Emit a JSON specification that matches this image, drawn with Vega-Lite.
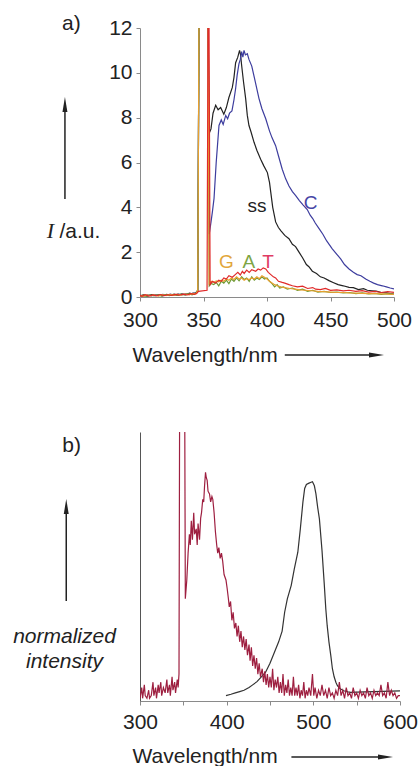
{
"$schema": "https://vega.github.io/schema/vega-lite/v6.json",
"padding": {"left": 12, "top": 12, "right": 0, "bottom": 0},
"bounds": "flush",
"spacing": 135,
"config": {
  "view": {"stroke": null},
  "font": "Liberation Sans",
  "text": {"font": "Liberation Sans"},
  "axis": {"grid": false, "labelFont": "Liberation Sans", "labelFontSize": 21, "labelColor": "#222222", "titleFont": "Liberation Sans", "titleFontSize": 21, "titleFontWeight": "normal", "titleColor": "#222222", "domainColor": "#8a8a8a", "tickColor": "#8a8a8a", "tickSize": 4, "labelFlush": false}
},
"datasets": {
  "a": [
    {"s":"ss","wl":300,"I":0.05},{"s":"ss","wl":303,"I":0.09},{"s":"ss","wl":306,"I":0.04},{"s":"ss","wl":309,"I":0.11},{"s":"ss","wl":312,"I":0.06},{"s":"ss","wl":315,"I":0.1},{"s":"ss","wl":318,"I":0.05},{"s":"ss","wl":321,"I":0.12},{"s":"ss","wl":324,"I":0.07},{"s":"ss","wl":327,"I":0.13},{"s":"ss","wl":330,"I":0.08},{"s":"ss","wl":333,"I":0.14},{"s":"ss","wl":336,"I":0.1},{"s":"ss","wl":339,"I":0.17},{"s":"ss","wl":342,"I":0.13},{"s":"ss","wl":344,"I":0.2},{"s":"ss","wl":345.5,"I":0.3},{"s":"ss","wl":346.5,"I":13},{"s":"ss","wl":353.5,"I":13},{"s":"ss","wl":354.5,"I":7.3},{"s":"ss","wl":355.9,"I":7.5},{"s":"ss","wl":357.5,"I":8.2},{"s":"ss","wl":359.6,"I":8.55},{"s":"ss","wl":361.5,"I":8.35},{"s":"ss","wl":363.5,"I":8.45},{"s":"ss","wl":366,"I":8.15},{"s":"ss","wl":368,"I":8.45},{"s":"ss","wl":370,"I":8.9},{"s":"ss","wl":372.7,"I":9.35},{"s":"ss","wl":374,"I":9.8},{"s":"ss","wl":375.3,"I":10.45},{"s":"ss","wl":377,"I":10.7},{"s":"ss","wl":378.4,"I":11.0},{"s":"ss","wl":379.2,"I":10.8},{"s":"ss","wl":380,"I":10.35},{"s":"ss","wl":381.5,"I":9.6},{"s":"ss","wl":383.2,"I":8.85},{"s":"ss","wl":384.5,"I":8.1},{"s":"ss","wl":385.8,"I":7.65},{"s":"ss","wl":387.5,"I":7.35},{"s":"ss","wl":389.8,"I":6.9},{"s":"ss","wl":392,"I":6.55},{"s":"ss","wl":395,"I":6.15},{"s":"ss","wl":397.5,"I":5.85},{"s":"ss","wl":400.3,"I":5.55},{"s":"ss","wl":402,"I":5.1},{"s":"ss","wl":402.9,"I":4.7},{"s":"ss","wl":404.5,"I":4.0},{"s":"ss","wl":406.8,"I":3.35},{"s":"ss","wl":409,"I":3.1},{"s":"ss","wl":411,"I":2.95},{"s":"ss","wl":414,"I":2.75},{"s":"ss","wl":417.3,"I":2.6},{"s":"ss","wl":420,"I":2.35},{"s":"ss","wl":422.5,"I":2.25},{"s":"ss","wl":425.2,"I":2.0},{"s":"ss","wl":428,"I":1.75},{"s":"ss","wl":431,"I":1.45},{"s":"ss","wl":433,"I":1.35},{"s":"ss","wl":435.7,"I":1.15},{"s":"ss","wl":439,"I":1.05},{"s":"ss","wl":442,"I":0.9},{"s":"ss","wl":445,"I":0.85},{"s":"ss","wl":448.8,"I":0.73},{"s":"ss","wl":452,"I":0.65},{"s":"ss","wl":456,"I":0.55},{"s":"ss","wl":460,"I":0.5},{"s":"ss","wl":464.6,"I":0.43},{"s":"ss","wl":468,"I":0.42},{"s":"ss","wl":472,"I":0.33},{"s":"ss","wl":476,"I":0.37},{"s":"ss","wl":479,"I":0.3},{"s":"ss","wl":482.7,"I":0.28},{"s":"ss","wl":486,"I":0.26},{"s":"ss","wl":490,"I":0.2},{"s":"ss","wl":494,"I":0.19},{"s":"ss","wl":497,"I":0.15},{"s":"ss","wl":500,"I":0.13},

    {"s":"C","wl":300,"I":0.07},{"s":"C","wl":303,"I":0.04},{"s":"C","wl":306,"I":0.1},{"s":"C","wl":309,"I":0.05},{"s":"C","wl":312,"I":0.11},{"s":"C","wl":315,"I":0.06},{"s":"C","wl":318,"I":0.12},{"s":"C","wl":321,"I":0.07},{"s":"C","wl":324,"I":0.13},{"s":"C","wl":327,"I":0.08},{"s":"C","wl":330,"I":0.14},{"s":"C","wl":333,"I":0.09},{"s":"C","wl":336,"I":0.15},{"s":"C","wl":339,"I":0.11},{"s":"C","wl":342,"I":0.18},{"s":"C","wl":344,"I":0.15},{"s":"C","wl":345.5,"I":0.3},{"s":"C","wl":346.5,"I":13},{"s":"C","wl":353.5,"I":13},{"s":"C","wl":354.5,"I":2.8},{"s":"C","wl":355.7,"I":3.26},{"s":"C","wl":357,"I":3.8},{"s":"C","wl":358.3,"I":4.4},{"s":"C","wl":360,"I":6.0},{"s":"C","wl":362.2,"I":7.65},{"s":"C","wl":364,"I":7.9},{"s":"C","wl":365.5,"I":7.7},{"s":"C","wl":367.5,"I":8.1},{"s":"C","wl":369,"I":7.95},{"s":"C","wl":370.5,"I":8.2},{"s":"C","wl":372.4,"I":8.3},{"s":"C","wl":374,"I":8.8},{"s":"C","wl":375.3,"I":9.3},{"s":"C","wl":376.5,"I":9.9},{"s":"C","wl":377.9,"I":10.4},{"s":"C","wl":379,"I":10.6},{"s":"C","wl":380,"I":10.95},{"s":"C","wl":381,"I":10.7},{"s":"C","wl":381.9,"I":11.0},{"s":"C","wl":383,"I":10.8},{"s":"C","wl":384.5,"I":10.85},{"s":"C","wl":385.8,"I":10.6},{"s":"C","wl":388,"I":10.3},{"s":"C","wl":390,"I":9.8},{"s":"C","wl":393.7,"I":8.85},{"s":"C","wl":396,"I":8.4},{"s":"C","wl":399,"I":7.95},{"s":"C","wl":402,"I":7.4},{"s":"C","wl":404,"I":7.1},{"s":"C","wl":406.8,"I":6.75},{"s":"C","wl":409,"I":6.3},{"s":"C","wl":412,"I":5.7},{"s":"C","wl":414.7,"I":5.27},{"s":"C","wl":417.3,"I":4.95},{"s":"C","wl":420,"I":4.7},{"s":"C","wl":422.6,"I":4.52},{"s":"C","wl":425.5,"I":4.3},{"s":"C","wl":428.5,"I":4.1},{"s":"C","wl":431.7,"I":3.9},{"s":"C","wl":434,"I":3.65},{"s":"C","wl":436,"I":3.5},{"s":"C","wl":438,"I":3.3},{"s":"C","wl":441,"I":3.05},{"s":"C","wl":444,"I":2.8},{"s":"C","wl":447,"I":2.5},{"s":"C","wl":451.4,"I":2.15},{"s":"C","wl":455,"I":1.9},{"s":"C","wl":458,"I":1.7},{"s":"C","wl":461,"I":1.45},{"s":"C","wl":464.6,"I":1.25},{"s":"C","wl":468,"I":1.1},{"s":"C","wl":471,"I":1.0},{"s":"C","wl":474,"I":0.95},{"s":"C","wl":477.7,"I":0.8},{"s":"C","wl":481,"I":0.7},{"s":"C","wl":484,"I":0.62},{"s":"C","wl":487,"I":0.55},{"s":"C","wl":490.8,"I":0.5},{"s":"C","wl":494,"I":0.45},{"s":"C","wl":497,"I":0.4},{"s":"C","wl":500,"I":0.36},

    {"s":"A","wl":300,"I":0.04},{"s":"A","wl":302,"I":0.08},{"s":"A","wl":305,"I":0.03},{"s":"A","wl":308,"I":0.09},{"s":"A","wl":311,"I":0.05},{"s":"A","wl":314,"I":0.1},{"s":"A","wl":317,"I":0.04},{"s":"A","wl":320,"I":0.11},{"s":"A","wl":323,"I":0.06},{"s":"A","wl":326,"I":0.12},{"s":"A","wl":329,"I":0.07},{"s":"A","wl":332,"I":0.13},{"s":"A","wl":335,"I":0.09},{"s":"A","wl":338,"I":0.15},{"s":"A","wl":341,"I":0.1},{"s":"A","wl":344,"I":0.18},{"s":"A","wl":345.5,"I":0.3},{"s":"A","wl":346.5,"I":13},{"s":"A","wl":353.5,"I":13},{"s":"A","wl":354.5,"I":0.5},{"s":"A","wl":356,"I":0.6},{"s":"A","wl":358,"I":0.55},{"s":"A","wl":360,"I":0.65},{"s":"A","wl":362,"I":0.5},{"s":"A","wl":364,"I":0.7},{"s":"A","wl":366,"I":0.62},{"s":"A","wl":368,"I":0.75},{"s":"A","wl":370,"I":0.6},{"s":"A","wl":372,"I":0.8},{"s":"A","wl":374,"I":0.7},{"s":"A","wl":376,"I":0.85},{"s":"A","wl":378,"I":0.72},{"s":"A","wl":380,"I":0.9},{"s":"A","wl":382,"I":0.78},{"s":"A","wl":384,"I":0.85},{"s":"A","wl":386,"I":0.7},{"s":"A","wl":388,"I":0.9},{"s":"A","wl":390,"I":0.75},{"s":"A","wl":392,"I":0.85},{"s":"A","wl":394,"I":0.78},{"s":"A","wl":396,"I":0.9},{"s":"A","wl":398,"I":0.8},{"s":"A","wl":400,"I":0.85},{"s":"A","wl":402,"I":0.7},{"s":"A","wl":404,"I":0.6},{"s":"A","wl":406,"I":0.45},{"s":"A","wl":408,"I":0.55},{"s":"A","wl":410,"I":0.4},{"s":"A","wl":413,"I":0.45},{"s":"A","wl":416,"I":0.35},{"s":"A","wl":420,"I":0.4},{"s":"A","wl":424,"I":0.3},{"s":"A","wl":428,"I":0.35},{"s":"A","wl":432,"I":0.25},{"s":"A","wl":436,"I":0.3},{"s":"A","wl":440,"I":0.22},{"s":"A","wl":445,"I":0.25},{"s":"A","wl":450,"I":0.2},{"s":"A","wl":455,"I":0.22},{"s":"A","wl":460,"I":0.18},{"s":"A","wl":465,"I":0.2},{"s":"A","wl":470,"I":0.15},{"s":"A","wl":475,"I":0.18},{"s":"A","wl":480,"I":0.14},{"s":"A","wl":485,"I":0.16},{"s":"A","wl":490,"I":0.12},{"s":"A","wl":495,"I":0.15},{"s":"A","wl":500,"I":0.12},

    {"s":"G","wl":300,"I":0.06},{"s":"G","wl":302.5,"I":0.03},{"s":"G","wl":305.5,"I":0.09},{"s":"G","wl":308.5,"I":0.05},{"s":"G","wl":311.5,"I":0.1},{"s":"G","wl":314.5,"I":0.04},{"s":"G","wl":317.5,"I":0.11},{"s":"G","wl":320.5,"I":0.06},{"s":"G","wl":323.5,"I":0.12},{"s":"G","wl":326.5,"I":0.07},{"s":"G","wl":329.5,"I":0.13},{"s":"G","wl":332.5,"I":0.08},{"s":"G","wl":335.5,"I":0.14},{"s":"G","wl":338.5,"I":0.1},{"s":"G","wl":341.5,"I":0.16},{"s":"G","wl":344,"I":0.14},{"s":"G","wl":345.5,"I":0.3},{"s":"G","wl":346.5,"I":13},{"s":"G","wl":353.5,"I":13},{"s":"G","wl":354.5,"I":0.6},{"s":"G","wl":356,"I":0.7},{"s":"G","wl":358,"I":0.65},{"s":"G","wl":360,"I":0.72},{"s":"G","wl":362,"I":0.68},{"s":"G","wl":364,"I":0.75},{"s":"G","wl":366,"I":0.7},{"s":"G","wl":368,"I":0.8},{"s":"G","wl":370,"I":0.75},{"s":"G","wl":372,"I":0.85},{"s":"G","wl":374,"I":0.78},{"s":"G","wl":376,"I":0.9},{"s":"G","wl":378,"I":0.8},{"s":"G","wl":380,"I":0.85},{"s":"G","wl":382,"I":0.75},{"s":"G","wl":384,"I":0.82},{"s":"G","wl":386,"I":0.78},{"s":"G","wl":388,"I":0.85},{"s":"G","wl":390,"I":0.8},{"s":"G","wl":392,"I":0.9},{"s":"G","wl":394,"I":0.82},{"s":"G","wl":396,"I":0.95},{"s":"G","wl":398,"I":0.88},{"s":"G","wl":400,"I":0.8},{"s":"G","wl":402,"I":0.7},{"s":"G","wl":404,"I":0.62},{"s":"G","wl":406,"I":0.55},{"s":"G","wl":408,"I":0.5},{"s":"G","wl":411,"I":0.45},{"s":"G","wl":414,"I":0.42},{"s":"G","wl":418,"I":0.38},{"s":"G","wl":422,"I":0.35},{"s":"G","wl":426,"I":0.32},{"s":"G","wl":430,"I":0.3},{"s":"G","wl":435,"I":0.28},{"s":"G","wl":440,"I":0.25},{"s":"G","wl":445,"I":0.24},{"s":"G","wl":450,"I":0.22},{"s":"G","wl":455,"I":0.2},{"s":"G","wl":460,"I":0.2},{"s":"G","wl":465,"I":0.18},{"s":"G","wl":470,"I":0.17},{"s":"G","wl":475,"I":0.16},{"s":"G","wl":480,"I":0.15},{"s":"G","wl":485,"I":0.15},{"s":"G","wl":490,"I":0.14},{"s":"G","wl":495,"I":0.13},{"s":"G","wl":500,"I":0.12},

    {"s":"T","wl":300,"I":0.08},{"s":"T","wl":301.5,"I":0.03},{"s":"T","wl":304,"I":0.1},{"s":"T","wl":307,"I":0.04},{"s":"T","wl":310,"I":0.09},{"s":"T","wl":313,"I":0.05},{"s":"T","wl":316,"I":0.11},{"s":"T","wl":319,"I":0.06},{"s":"T","wl":322,"I":0.1},{"s":"T","wl":325,"I":0.07},{"s":"T","wl":328,"I":0.12},{"s":"T","wl":331,"I":0.08},{"s":"T","wl":334,"I":0.13},{"s":"T","wl":337,"I":0.09},{"s":"T","wl":340,"I":0.15},{"s":"T","wl":343,"I":0.12},{"s":"T","wl":345,"I":0.18},{"s":"T","wl":346,"I":0.25},{"s":"T","wl":352.8,"I":0.3},{"s":"T","wl":353.6,"I":13},{"s":"T","wl":354.3,"I":13},{"s":"T","wl":355.2,"I":0.55},{"s":"T","wl":357,"I":0.7},{"s":"T","wl":359.6,"I":0.62},{"s":"T","wl":362,"I":0.75},{"s":"T","wl":364,"I":0.7},{"s":"T","wl":366,"I":0.85},{"s":"T","wl":368,"I":0.8},{"s":"T","wl":370,"I":0.95},{"s":"T","wl":372.7,"I":0.88},{"s":"T","wl":375,"I":1.0},{"s":"T","wl":377,"I":1.1},{"s":"T","wl":379,"I":0.98},{"s":"T","wl":380.6,"I":1.15},{"s":"T","wl":382,"I":1.05},{"s":"T","wl":384,"I":1.2},{"s":"T","wl":386,"I":1.1},{"s":"T","wl":388,"I":1.22},{"s":"T","wl":391.1,"I":1.15},{"s":"T","wl":393,"I":1.25},{"s":"T","wl":395,"I":1.2},{"s":"T","wl":397,"I":1.3},{"s":"T","wl":399,"I":1.25},{"s":"T","wl":401,"I":1.1},{"s":"T","wl":403,"I":1.0},{"s":"T","wl":405,"I":0.9},{"s":"T","wl":406.8,"I":0.85},{"s":"T","wl":409,"I":0.7},{"s":"T","wl":412,"I":0.65},{"s":"T","wl":414,"I":0.62},{"s":"T","wl":417.3,"I":0.55},{"s":"T","wl":420,"I":0.5},{"s":"T","wl":424,"I":0.45},{"s":"T","wl":428,"I":0.48},{"s":"T","wl":432,"I":0.38},{"s":"T","wl":436,"I":0.42},{"s":"T","wl":438.3,"I":0.35},{"s":"T","wl":442,"I":0.33},{"s":"T","wl":446,"I":0.38},{"s":"T","wl":450,"I":0.3},{"s":"T","wl":455,"I":0.32},{"s":"T","wl":460,"I":0.27},{"s":"T","wl":464.6,"I":0.3},{"s":"T","wl":470,"I":0.25},{"s":"T","wl":475,"I":0.28},{"s":"T","wl":480,"I":0.22},{"s":"T","wl":485,"I":0.25},{"s":"T","wl":490,"I":0.2},{"s":"T","wl":495,"I":0.24},{"s":"T","wl":500,"I":0.21}
  ],
  "alab": [
    {"s":"ss","lab":"ss","wl":392.1,"I":4.08},
    {"s":"C","lab":"C","wl":434.4,"I":4.2},
    {"s":"G","lab":"G","wl":368.1,"I":1.58},
    {"s":"A","lab":"A","wl":385.8,"I":1.58},
    {"s":"T","lab":"T","wl":400.8,"I":1.58}
  ],
  "b": [
    {"s":"k","wl":399.2,"v":0.02},{"s":"k","wl":405,"v":0.025},{"s":"k","wl":410,"v":0.03},{"s":"k","wl":415,"v":0.035},{"s":"k","wl":420,"v":0.04},{"s":"k","wl":425.8,"v":0.05},{"s":"k","wl":430,"v":0.06},{"s":"k","wl":435,"v":0.072},{"s":"k","wl":440,"v":0.09},{"s":"k","wl":444.9,"v":0.107},{"s":"k","wl":450,"v":0.14},{"s":"k","wl":455,"v":0.18},{"s":"k","wl":460,"v":0.22},{"s":"k","wl":464,"v":0.26},{"s":"k","wl":466.9,"v":0.33},{"s":"k","wl":470,"v":0.38},{"s":"k","wl":474.5,"v":0.43},{"s":"k","wl":478,"v":0.49},{"s":"k","wl":482.1,"v":0.553},{"s":"k","wl":485,"v":0.64},{"s":"k","wl":488,"v":0.74},{"s":"k","wl":490,"v":0.79},{"s":"k","wl":492,"v":0.805},{"s":"k","wl":495,"v":0.81},{"s":"k","wl":497.4,"v":0.813},{"s":"k","wl":499,"v":0.815},{"s":"k","wl":501.2,"v":0.8},{"s":"k","wl":503,"v":0.77},{"s":"k","wl":505,"v":0.72},{"s":"k","wl":507,"v":0.677},{"s":"k","wl":510,"v":0.56},{"s":"k","wl":512.5,"v":0.44},{"s":"k","wl":514.4,"v":0.342},{"s":"k","wl":516,"v":0.28},{"s":"k","wl":518,"v":0.22},{"s":"k","wl":520.2,"v":0.168},{"s":"k","wl":522,"v":0.12},{"s":"k","wl":524,"v":0.09},{"s":"k","wl":526,"v":0.07},{"s":"k","wl":527.8,"v":0.057},{"s":"k","wl":531,"v":0.045},{"s":"k","wl":535,"v":0.038},{"s":"k","wl":540,"v":0.034},{"s":"k","wl":543,"v":0.032},{"s":"k","wl":550,"v":0.033},{"s":"k","wl":560,"v":0.034},{"s":"k","wl":570,"v":0.035},{"s":"k","wl":580,"v":0.036},{"s":"k","wl":590,"v":0.037},{"s":"k","wl":600,"v":0.038},

    {"s":"r","wl":300,"v":0.01},{"s":"r","wl":302,"v":0.05},{"s":"r","wl":303,"v":0.01},{"s":"r","wl":305,"v":0.06},{"s":"r","wl":306,"v":0.02},{"s":"r","wl":308,"v":0.01},{"s":"r","wl":310,"v":0.04},{"s":"r","wl":311,"v":0.01},{"s":"r","wl":313,"v":0.02},{"s":"r","wl":315,"v":0.07},{"s":"r","wl":316,"v":0.02},{"s":"r","wl":318,"v":0.05},{"s":"r","wl":319,"v":0.01},{"s":"r","wl":321,"v":0.06},{"s":"r","wl":322,"v":0.03},{"s":"r","wl":324,"v":0.07},{"s":"r","wl":325,"v":0.02},{"s":"r","wl":327,"v":0.05},{"s":"r","wl":329,"v":0.03},{"s":"r","wl":331,"v":0.08},{"s":"r","wl":332,"v":0.03},{"s":"r","wl":334,"v":0.06},{"s":"r","wl":335,"v":0.02},{"s":"r","wl":337,"v":0.09},{"s":"r","wl":338,"v":0.04},{"s":"r","wl":340,"v":0.07},{"s":"r","wl":341,"v":0.03},{"s":"r","wl":343,"v":0.08},{"s":"r","wl":344,"v":0.05},{"s":"r","wl":345,"v":0.1},{"s":"r","wl":345.8,"v":1.2},{"s":"r","wl":351.5,"v":1.2},{"s":"r","wl":352.3,"v":0.38},{"s":"r","wl":354,"v":0.45},{"s":"r","wl":355.5,"v":0.55},{"s":"r","wl":357,"v":0.62},{"s":"r","wl":358,"v":0.58},{"s":"r","wl":359.2,"v":0.67},{"s":"r","wl":360.5,"v":0.6},{"s":"r","wl":362,"v":0.7},{"s":"r","wl":363,"v":0.62},{"s":"r","wl":364.9,"v":0.64},{"s":"r","wl":366,"v":0.58},{"s":"r","wl":367,"v":0.66},{"s":"r","wl":368.7,"v":0.6},{"s":"r","wl":370,"v":0.68},{"s":"r","wl":371,"v":0.7},{"s":"r","wl":372.4,"v":0.75},{"s":"r","wl":373.5,"v":0.74},{"s":"r","wl":374.5,"v":0.8},{"s":"r","wl":375.6,"v":0.85},{"s":"r","wl":376.5,"v":0.83},{"s":"r","wl":377.5,"v":0.82},{"s":"r","wl":378.5,"v":0.78},{"s":"r","wl":380.2,"v":0.77},{"s":"r","wl":381.5,"v":0.74},{"s":"r","wl":383,"v":0.76},{"s":"r","wl":384,"v":0.75},{"s":"r","wl":385.5,"v":0.7},{"s":"r","wl":387,"v":0.63},{"s":"r","wl":388.5,"v":0.58},{"s":"r","wl":389.7,"v":0.55},{"s":"r","wl":391,"v":0.57},{"s":"r","wl":392.5,"v":0.53},{"s":"r","wl":394,"v":0.55},{"s":"r","wl":395.4,"v":0.52},{"s":"r","wl":397,"v":0.47},{"s":"r","wl":399.2,"v":0.45},{"s":"r","wl":400.5,"v":0.42},{"s":"r","wl":402,"v":0.38},{"s":"r","wl":403,"v":0.35},{"s":"r","wl":404.5,"v":0.37},{"s":"r","wl":406,"v":0.3},{"s":"r","wl":407.5,"v":0.33},{"s":"r","wl":409,"v":0.27},{"s":"r","wl":410.6,"v":0.29},{"s":"r","wl":412,"v":0.24},{"s":"r","wl":413.5,"v":0.28},{"s":"r","wl":415,"v":0.22},{"s":"r","wl":416.5,"v":0.26},{"s":"r","wl":418,"v":0.2},{"s":"r","wl":419.5,"v":0.24},{"s":"r","wl":421,"v":0.19},{"s":"r","wl":422.5,"v":0.23},{"s":"r","wl":424,"v":0.17},{"s":"r","wl":425.8,"v":0.21},{"s":"r","wl":427,"v":0.15},{"s":"r","wl":428.5,"v":0.2},{"s":"r","wl":430,"v":0.13},{"s":"r","wl":431.5,"v":0.17},{"s":"r","wl":433,"v":0.12},{"s":"r","wl":434.5,"v":0.16},{"s":"r","wl":436,"v":0.1},{"s":"r","wl":437.5,"v":0.14},{"s":"r","wl":439,"v":0.09},{"s":"r","wl":441,"v":0.12},{"s":"r","wl":442.5,"v":0.07},{"s":"r","wl":444,"v":0.11},{"s":"r","wl":445.5,"v":0.06},{"s":"r","wl":447,"v":0.1},{"s":"r","wl":448.5,"v":0.05},{"s":"r","wl":450,"v":0.09},{"s":"r","wl":451.5,"v":0.05},{"s":"r","wl":453,"v":0.12},{"s":"r","wl":454.5,"v":0.04},{"s":"r","wl":456,"v":0.08},{"s":"r","wl":457.5,"v":0.05},{"s":"r","wl":459,"v":0.09},{"s":"r","wl":460.5,"v":0.03},{"s":"r","wl":462,"v":0.07},{"s":"r","wl":463.5,"v":0.03},{"s":"r","wl":465,"v":0.1},{"s":"r","wl":466.5,"v":0.02},{"s":"r","wl":468,"v":0.06},{"s":"r","wl":469.5,"v":0.03},{"s":"r","wl":471,"v":0.08},{"s":"r","wl":472.5,"v":0.02},{"s":"r","wl":474,"v":0.05},{"s":"r","wl":475.5,"v":0.02},{"s":"r","wl":477,"v":0.09},{"s":"r","wl":478.5,"v":0.02},{"s":"r","wl":480,"v":0.05},{"s":"r","wl":481.5,"v":0.02},{"s":"r","wl":483,"v":0.06},{"s":"r","wl":484.5,"v":0.01},{"s":"r","wl":486,"v":0.04},{"s":"r","wl":487.5,"v":0.02},{"s":"r","wl":489,"v":0.07},{"s":"r","wl":490.5,"v":0.01},{"s":"r","wl":492,"v":0.04},{"s":"r","wl":493.5,"v":0.02},{"s":"r","wl":495,"v":0.05},{"s":"r","wl":497,"v":0.02},{"s":"r","wl":499,"v":0.1},{"s":"r","wl":500.5,"v":0.02},{"s":"r","wl":502,"v":0.05},{"s":"r","wl":504,"v":0.01},{"s":"r","wl":506,"v":0.04},{"s":"r","wl":508,"v":0.02},{"s":"r","wl":510,"v":0.06},{"s":"r","wl":512,"v":0.02},{"s":"r","wl":514,"v":0.04},{"s":"r","wl":516,"v":0.01},{"s":"r","wl":518,"v":0.05},{"s":"r","wl":520,"v":0.02},{"s":"r","wl":522,"v":0.03},{"s":"r","wl":524,"v":0.01},{"s":"r","wl":526,"v":0.04},{"s":"r","wl":528,"v":0.02},{"s":"r","wl":530,"v":0.07},{"s":"r","wl":532,"v":0.02},{"s":"r","wl":534,"v":0.04},{"s":"r","wl":536,"v":0.01},{"s":"r","wl":538,"v":0.05},{"s":"r","wl":540,"v":0.02},{"s":"r","wl":542,"v":0.03},{"s":"r","wl":544,"v":0.01},{"s":"r","wl":546,"v":0.05},{"s":"r","wl":548,"v":0.02},{"s":"r","wl":550,"v":0.03},{"s":"r","wl":552,"v":0.01},{"s":"r","wl":554,"v":0.04},{"s":"r","wl":556,"v":0.02},{"s":"r","wl":558,"v":0.03},{"s":"r","wl":560,"v":0.01},{"s":"r","wl":562,"v":0.05},{"s":"r","wl":564,"v":0.02},{"s":"r","wl":566,"v":0.03},{"s":"r","wl":568,"v":0.01},{"s":"r","wl":570,"v":0.04},{"s":"r","wl":572,"v":0.02},{"s":"r","wl":574,"v":0.03},{"s":"r","wl":576,"v":0.02},{"s":"r","wl":578,"v":0.06},{"s":"r","wl":580,"v":0.02},{"s":"r","wl":582,"v":0.03},{"s":"r","wl":584,"v":0.01},{"s":"r","wl":586,"v":0.07},{"s":"r","wl":588,"v":0.02},{"s":"r","wl":590,"v":0.04},{"s":"r","wl":592,"v":0.02},{"s":"r","wl":594,"v":0.03},{"s":"r","wl":596,"v":0.01},{"s":"r","wl":598,"v":0.02},{"s":"r","wl":600,"v":0.02}
  ]
},
"vconcat": [
  {
    "width": 254,
    "height": 269,
    "encoding": {
      "x": {"field": "wl", "type": "quantitative", "scale": {"domain": [300, 500], "nice": false, "zero": false},
        "axis": {"values": [300, 350, 400, 450, 500], "labelPadding": 8, "title": "Wavelength/nm", "titleAlign": "left", "titleAnchor": "start", "titleX": -8, "titleY": 58, "titleBaseline": "middle"}},
      "y": {"field": "I", "type": "quantitative", "scale": {"domain": [0, 12], "nice": false, "zero": false},
        "axis": {"values": [0, 2, 4, 6, 8, 10, 12], "labelPadding": 4, "title": "/a.u.", "titleAngle": 0, "titleAlign": "left", "titleBaseline": "middle", "titleX": -81, "titleY": 203}}
    },
    "layer": [
      {"data": {"name": "a"}, "transform": [{"filter": "datum.s === 'ss'"}], "mark": {"type": "line", "clip": true, "color": "#222222", "strokeWidth": 1.2}},
      {"data": {"name": "a"}, "transform": [{"filter": "datum.s === 'C'"}], "mark": {"type": "line", "clip": true, "color": "#3d3d9e", "strokeWidth": 1.2}},
      {"data": {"name": "a"}, "transform": [{"filter": "datum.s === 'A'"}], "mark": {"type": "line", "clip": true, "color": "#6e9a34", "strokeWidth": 1.2}},
      {"data": {"name": "a"}, "transform": [{"filter": "datum.s === 'G'"}], "mark": {"type": "line", "clip": true, "color": "#e8a030", "strokeWidth": 1.2}},
      {"data": {"name": "a"}, "transform": [{"filter": "datum.s === 'T'"}], "mark": {"type": "line", "clip": true, "color": "#e02a2a", "strokeWidth": 1.2}},
      {"data": {"name": "alab"}, "mark": {"type": "text", "fontSize": 19, "align": "center", "baseline": "middle"},
        "encoding": {"text": {"field": "lab"}, "color": {"field": "s", "type": "nominal", "scale": {"domain": ["ss", "C", "G", "A", "T"], "range": ["#222222", "#4646a6", "#e2a63c", "#7ea544", "#e03c64"]}, "legend": null}}},
      {"data": {"name": "alab"}, "transform": [{"filter": "datum.s === 'ss'"}], "mark": {"type": "text", "text": "a)", "fontSize": 21, "align": "left", "baseline": "middle", "color": "#222222"},
        "encoding": {"x": {"datum": 238.6, "type": "quantitative"}, "y": {"datum": 12.19, "type": "quantitative"}}},
      {"data": {"name": "alab"}, "transform": [{"filter": "datum.s === 'ss'"}], "mark": {"type": "text", "text": "I", "font": "Liberation Serif", "fontStyle": "italic", "fontSize": 22, "align": "center", "baseline": "middle", "color": "#222222"},
        "encoding": {"x": {"datum": 229.5, "type": "quantitative"}, "y": {"datum": 2.95, "type": "quantitative"}}},
      {"data": {"name": "alab"}, "transform": [{"filter": "datum.s === 'ss'"}], "mark": {"type": "rule", "color": "#222222", "strokeWidth": 1.5},
        "encoding": {"x": {"datum": 240.9, "type": "quantitative"}, "y": {"datum": 4.375, "type": "quantitative"}, "y2": {"datum": 8.4}}},
      {"data": {"name": "alab"}, "transform": [{"filter": "datum.s === 'ss'"}], "mark": {"type": "point", "shape": "M0,-1L0.33,1L-0.33,1Z", "filled": true, "opacity": 1, "color": "#222222", "size": 225},
        "encoding": {"x": {"datum": 240.9, "type": "quantitative"}, "y": {"datum": 8.59, "type": "quantitative"}}},
      {"data": {"name": "alab"}, "transform": [{"filter": "datum.s === 'ss'"}], "mark": {"type": "rule", "color": "#222222", "strokeWidth": 1.5},
        "encoding": {"x": {"datum": 414, "type": "quantitative"}, "x2": {"datum": 483}, "y": {"datum": -2.59, "type": "quantitative"}}},
      {"data": {"name": "alab"}, "transform": [{"filter": "datum.s === 'ss'"}], "mark": {"type": "point", "shape": "M1,0L-1,-0.33L-1,0.33Z", "filled": true, "opacity": 1, "color": "#222222", "size": 225},
        "encoding": {"x": {"datum": 486.2, "type": "quantitative"}, "y": {"datum": -2.59, "type": "quantitative"}}}
    ]
  },
  {
    "width": 260,
    "height": 269,
    "encoding": {
      "x": {"field": "wl", "type": "quantitative", "scale": {"domain": [300, 600], "nice": false, "zero": false},
        "axis": {"values": [300, 350, 400, 450, 500, 550, 600], "labelExpr": "datum.value % 100 === 0 ? datum.label : ''", "labelPadding": 6, "title": "Wavelength/nm", "titleAlign": "left", "titleAnchor": "start", "titleX": -8, "titleY": 55, "titleBaseline": "middle"}},
      "y": {"field": "v", "type": "quantitative", "scale": {"domain": [0, 1], "nice": false, "zero": false},
        "axis": {"ticks": false, "labels": false, "domainColor": "#555555", "title": ["normalized", "intensity"], "titleFontStyle": "italic", "titleAngle": 0, "titleAlign": "center", "titleBaseline": "middle", "titleX": -76, "titleY": 204.5, "titleLineHeight": 25}}
    },
    "layer": [
      {"data": {"name": "b"}, "transform": [{"filter": "datum.s === 'k'"}], "mark": {"type": "line", "clip": true, "color": "#333333", "strokeWidth": 1.2}},
      {"data": {"name": "b"}, "transform": [{"filter": "datum.s === 'r'"}], "mark": {"type": "line", "clip": true, "color": "#9e1f40", "strokeWidth": 1.2}},
      {"data": {"name": "b"}, "transform": [{"filter": "datum.s === 'k' && datum.wl === 600"}], "mark": {"type": "text", "text": "b)", "fontSize": 21, "align": "left", "baseline": "middle", "color": "#222222"},
        "encoding": {"x": {"datum": 210.3, "type": "quantitative"}, "y": {"datum": 0.948, "type": "quantitative"}}},
      {"data": {"name": "b"}, "transform": [{"filter": "datum.s === 'k' && datum.wl === 600"}], "mark": {"type": "rule", "color": "#222222", "strokeWidth": 1.5},
        "encoding": {"x": {"datum": 214.9, "type": "quantitative"}, "y": {"datum": 0.372, "type": "quantitative"}, "y2": {"datum": 0.71}}},
      {"data": {"name": "b"}, "transform": [{"filter": "datum.s === 'k' && datum.wl === 600"}], "mark": {"type": "point", "shape": "M0,-1L0.33,1L-0.33,1Z", "filled": true, "opacity": 1, "color": "#222222", "size": 225},
        "encoding": {"x": {"datum": 214.9, "type": "quantitative"}, "y": {"datum": 0.723, "type": "quantitative"}}},
      {"data": {"name": "b"}, "transform": [{"filter": "datum.s === 'k' && datum.wl === 600"}], "mark": {"type": "rule", "color": "#222222", "strokeWidth": 1.5},
        "encoding": {"x": {"datum": 474.7, "type": "quantitative"}, "x2": {"datum": 580}, "y": {"datum": -0.208, "type": "quantitative"}}},
      {"data": {"name": "b"}, "transform": [{"filter": "datum.s === 'k' && datum.wl === 600"}], "mark": {"type": "point", "shape": "M1,0L-1,-0.33L-1,0.33Z", "filled": true, "opacity": 1, "color": "#222222", "size": 225},
        "encoding": {"x": {"datum": 583.3, "type": "quantitative"}, "y": {"datum": -0.208, "type": "quantitative"}}}
    ]
  }
]
}
